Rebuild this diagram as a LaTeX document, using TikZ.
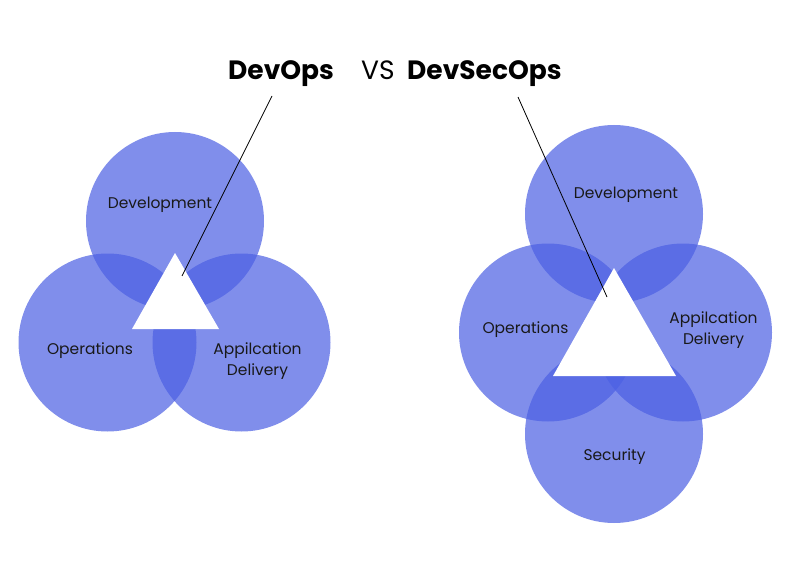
\documentclass[tikz,border=0pt]{standalone}
\usepackage{fontspec}
\setmainfont{Poppins}
\usetikzlibrary{positioning}
\definecolor{vennblue}{RGB}{76,96,227}

\begin{document}
\begin{tikzpicture}[x=1pt, y=-1pt,
        venn/.style={circle, fill=vennblue, fill opacity=0.71, minimum size=178pt, inner sep=0pt},
        lbl/.style={font=\fontsize{15.5}{21}\selectfont, text=black!90, align=center},
        ttl/.style={font=\fontsize{26.5}{30}\selectfont, text=black, anchor=base west, inner sep=0pt},
        pointer/.style={draw=black, line width=0.8pt}]

        \useasboundingbox (0,0) rectangle (801,567);

        % title
        \node[ttl] (devops) at (228,80) {\bfseries DevOps};
        \node[ttl] (vs) at (361,80) {VS};
        \node[ttl] (devsecops) at (407,80) {\bfseries DevSecOps};

        % DevOps circles
        \foreach \n/\x/\y in {devL/175/221, opsL/107.5/342.5, appL/241.5/342.5}
            \node[venn] (\n) at (\x,\y) {};

        % DevSecOps circles
        \foreach \n/\x/\y in {devR/614/214, opsR/548/332.5, appR/683/332.5, secR/614/434}
            \node[venn] (\n) at (\x,\y) {};

        % triangles
        \fill[white] (175,253) -- (219,329) -- (132,329) -- cycle;
        \fill[white] (614,268) -- (676,376) -- (553,376) -- cycle;

        % pointers
        \coordinate (devopsFoot) at (272,96);
        \coordinate (devopsTip) at (182,276);
        \coordinate (devsecFoot) at (518,97);
        \coordinate (devsecTip) at (607,297);
        \draw[pointer] (devopsFoot) -- (devopsTip);
        \draw[pointer] (devsecFoot) -- (devsecTip);

        % labels
        \node[lbl] (devLtxt) at (160,205) {Development};
        \node[lbl] (opsLtxt) at (90,351) {Operations};
        \node[lbl] (appLtxt) at (257.5,361) {Appilcation\\Delivery};

        \node[lbl] (devRtxt) at (626,195) {Development};
        \node[lbl] (opsRtxt) at (525.5,330) {Operations};
        \node[lbl] (appRtxt) at (713.5,330.5) {Appilcation\\Delivery};
        \node[lbl] (secRtxt) at (614.5,457) {Security};
\end{tikzpicture}
\end{document}
